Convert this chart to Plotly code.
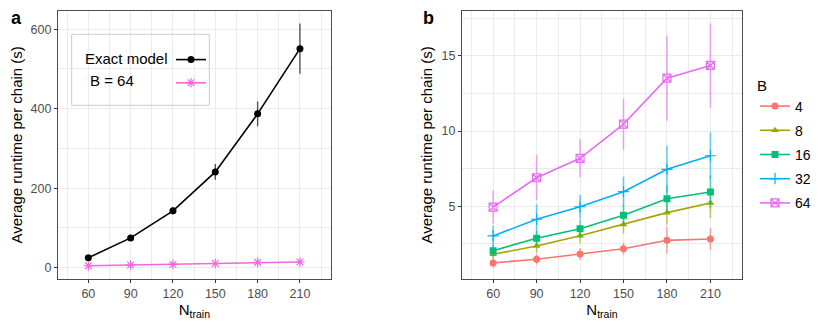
import plotly.graph_objects as go

# the page body adds an 8px margin, so the figure is drawn 8px smaller
OFF = 8
W, H = 830 - OFF, 331 - OFF

n_train = [60, 90, 120, 150, 180, 210]

# panel a: exact model vs B = 64
exact_mean = [25, 75, 143, 241, 387, 551]
exact_err = [3, 5, 9, 20, 31, 63]

# panel b: runtime per B
b_levels = ["4", "8", "16", "32", "64"]
b_mean = {
    "4":  [1.24, 1.48, 1.83, 2.18, 2.74, 2.83],
    "8":  [1.81, 2.36, 3.05, 3.80, 4.58, 5.22],
    "16": [2.05, 2.88, 3.51, 4.40, 5.50, 5.95],
    "32": [3.03, 4.14, 4.97, 5.97, 7.46, 8.36],
    "64": [4.95, 6.90, 8.19, 10.46, 13.52, 14.36],
}
b_err = {
    "4":  [0.30, 0.35, 0.40, 0.40, 0.90, 0.73],
    "8":  [0.30, 0.45, 0.50, 0.60, 0.80, 1.00],
    "16": [0.40, 0.50, 0.60, 0.70, 0.90, 1.10],
    "32": [0.70, 1.00, 0.80, 1.00, 1.55, 1.55],
    "64": [1.10, 1.50, 1.26, 1.70, 2.83, 2.80],
}

colors = {"4": "#F8766D", "8": "#A3A500", "16": "#00BF7D", "32": "#00B0F6", "64": "#E76BF3"}
symbols = {"4": "circle", "8": "triangle-up", "16": "square", "32": "cross-thin-open", "64": "square-x-open"}
pink = "#F564E3"


def rgba(hexc, a):
    h = hexc.lstrip("#")
    return f"rgba({int(h[0:2],16)},{int(h[2:4],16)},{int(h[4:6],16)},{a})"


def px(x):
    return (x - OFF) / W


def py(y):
    return 1 - (y - OFF) / H


fig = go.Figure()

# ---- panel a
fig.add_trace(go.Scatter(
    x=n_train, y=exact_mean, mode="lines+markers", name=" ",
    line=dict(color="black", width=1.6),
    marker=dict(color="black", size=7),
    error_y=dict(type="data", array=exact_err, width=0, thickness=1.4, color="rgba(0,0,0,0.65)"),
    xaxis="x", yaxis="y", legend="legend", legendgroup="ex",
))
fig.add_trace(go.Scatter(
    x=n_train, y=b_mean["64"], mode="lines+markers", name=" ",
    line=dict(color=pink, width=1.6),
    marker=dict(color=pink, size=8, symbol="asterisk-open", line=dict(color=pink, width=1.2)),
    error_y=dict(type="data", array=b_err["64"], width=0, thickness=1.4, color=rgba(pink, 0.6)),
    xaxis="x", yaxis="y", legend="legend", legendgroup="b64",
))

# ---- panel b
for b in b_levels:
    filled = not symbols[b].endswith("open")
    fig.add_trace(go.Scatter(
        x=n_train, y=b_mean[b], mode="lines+markers", name=b,
        line=dict(color=colors[b], width=1.6),
        marker=dict(color=colors[b], size=7 if filled else 8, symbol=symbols[b],
                    line=dict(color=colors[b], width=0 if filled else 1.2)),
        error_y=dict(type="data", array=b_err[b], width=0, thickness=1.6, color=rgba(colors[b], 0.6)),
        xaxis="x2", yaxis="y2", legend="legend2", legendgroup="g" + b,
    ))

tickfont = dict(family="Liberation Sans, Arial", size=12.5, color="#4D4D4D")
titlefont = dict(family="Liberation Sans, Arial", size=15, color="black")


def xaxis(dom):
    return dict(
        domain=dom, range=[38.5, 231.8], tickvals=n_train, ticks="outside", ticklen=3,
        tickcolor="#333333", tickwidth=1, tickfont=tickfont, automargin=False,
        showgrid=True, gridcolor="#EBEBEB", gridwidth=1.2,
        minor=dict(tick0=0, dtick=15, showgrid=True, gridcolor="#EBEBEB", gridwidth=0.6),
        showline=True, mirror=True, linecolor="#4D4D4D", linewidth=1.2, zeroline=False,
        title=dict(text="N<sub>train</sub>", font=titlefont, standoff=0),
    )


def yaxis(rng, tv, minor_dt, anchor):
    return dict(
        domain=[py(279), py(10.7)], range=rng, tickvals=tv, ticks="outside", ticklen=3,
        tickcolor="#333333", tickwidth=1, tickfont=tickfont, automargin=False,
        showgrid=True, gridcolor="#EBEBEB", gridwidth=1.2,
        minor=dict(tick0=0, dtick=minor_dt, showgrid=True, gridcolor="#EBEBEB", gridwidth=0.6),
        showline=True, mirror=True, linecolor="#4D4D4D", linewidth=1.2, zeroline=False,
        anchor=anchor,
        title=dict(text="Average runtime per chain (s)", font=titlefont, standoff=5),
    )


fig.update_layout(
    width=W, height=H,
    margin=dict(l=0, r=0, t=0, b=0, autoexpand=False),
    paper_bgcolor="white", plot_bgcolor="white",
    font=dict(family="Liberation Sans, Arial", color="black"),
    xaxis=xaxis([px(58), px(330.7)]),
    yaxis=yaxis([-28.4, 646.5], [0, 200, 400, 600], 100, "x"),
    xaxis2=dict(xaxis([px(462), px(742)]), anchor="y2"),
    yaxis2=yaxis([0.17, 18.0], [5, 10, 15], 2.5, "x2"),
    legend=dict(
        x=px(171), y=py(44), xanchor="left", yanchor="top",
        bgcolor="rgba(0,0,0,0)", borderwidth=0, tracegroupgap=2,
        font=dict(size=14), itemwidth=30,
    ),
    legend2=dict(
        x=px(755), y=py(71), xanchor="left", yanchor="top",
        bgcolor="rgba(0,0,0,0)", borderwidth=0, tracegroupgap=3,
        title=dict(text="B", font=dict(size=15)),
        font=dict(size=14), itemwidth=30,
    ),
    shapes=[dict(type="rect", xref="paper", yref="paper",
                 x0=px(71.7), x1=px(209.3), y0=py(105.3), y1=py(34.3),
                 line=dict(color="#CCCCCC", width=1), fillcolor="rgba(0,0,0,0)")],
    annotations=[
        dict(text="Exact model", x=px(83), y=py(58), xref="paper", yref="paper",
             xanchor="left", yanchor="middle", showarrow=False, font=dict(size=15)),
        dict(text="B = 64", x=px(88), y=py(81), xref="paper", yref="paper",
             xanchor="left", yanchor="middle", showarrow=False, font=dict(size=15)),
        dict(text="<b>a</b>", x=px(9), y=py(18), xref="paper", yref="paper",
             xanchor="left", yanchor="middle", showarrow=False, font=dict(size=18)),
        dict(text="<b>b</b>", x=px(421), y=py(18), xref="paper", yref="paper",
             xanchor="left", yanchor="middle", showarrow=False, font=dict(size=18)),
    ],
)

fig.write_html("out.html")
